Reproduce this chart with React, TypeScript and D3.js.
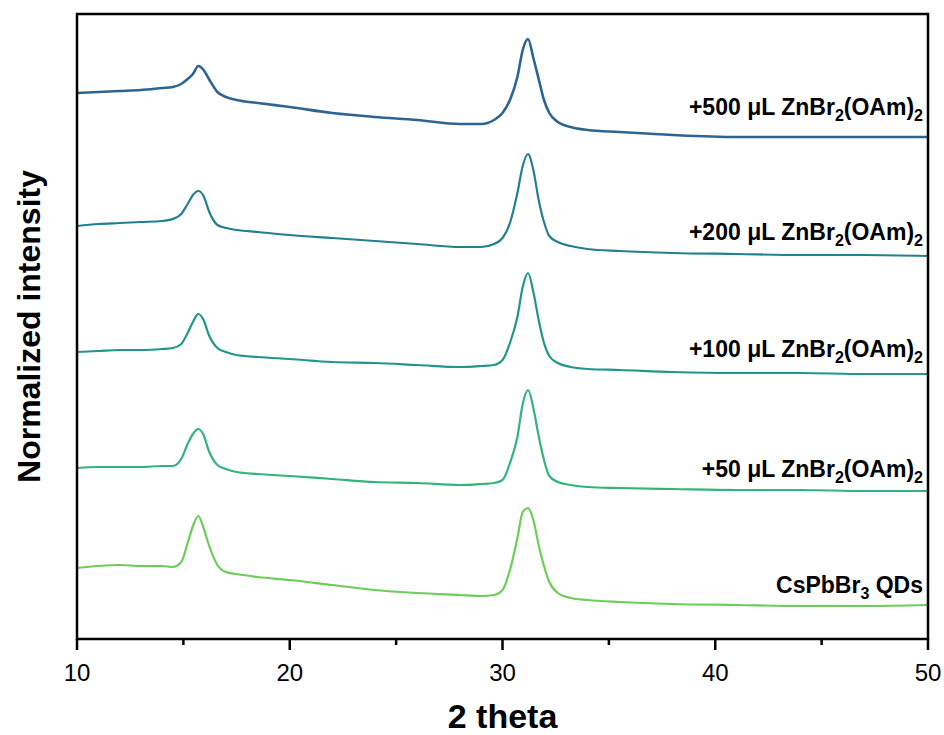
import React from "react";
import * as d3 from "d3";

// 2θ sampling positions (degrees)
const twoTheta = [
  10, 11, 12, 13, 14, 14.5, 14.9, 15.2, 15.45, 15.7, 15.95, 16.2, 16.6, 17, 17.5, 18.5,
  20, 22, 24, 26, 28, 29, 29.6, 30, 30.35, 30.7, 30.95, 31.2, 31.45, 31.7, 31.95, 32.2,
  32.6, 33.2, 34, 35.5, 38, 41, 44, 47, 50,
];

// Offset-stacked normalized intensities (a.u.)
const int500 = [
  546, 547, 548, 549, 551, 552, 555, 560, 565, 573, 569, 560, 547, 542, 539, 536,
  532, 526, 522, 519, 515, 515, 519, 526, 539, 562, 589, 600, 581, 560, 539, 526,
  517, 512, 509, 507, 504, 502, 502, 502, 502,
];
const int200 = [
  413, 415, 416, 417, 418, 420, 425, 435, 444, 448, 443, 428, 414, 411, 409, 407,
  404, 401, 398, 395, 392, 392, 395, 401, 416, 446, 473, 485, 469, 439, 417, 403,
  397, 393, 390, 388, 386, 385, 384, 384, 383,
];
const int100 = [
  287, 288, 289, 289, 290, 291, 295, 306, 317, 325, 319, 304, 291, 287, 284, 282,
  280, 277, 276, 274, 272, 273, 274, 279, 296, 322, 352, 366, 347, 319, 296, 283,
  276, 272, 270, 269, 267, 266, 266, 265, 265,
];
const int50 = [
  171, 172, 172, 172, 173, 173, 180, 195, 205, 210, 204, 188, 174, 170, 167, 165,
  163, 160, 157, 156, 154, 155, 156, 159, 176, 202, 235, 249, 231, 203, 179, 163,
  157, 154, 152, 151, 150, 149, 149, 148, 148,
];
const intQD = [
  71, 73, 74, 73, 73, 72, 77, 96, 113, 123, 111, 94, 74, 67, 65, 62,
  59, 54, 49, 46, 44, 43, 44, 49, 69, 101, 127, 131, 119, 94, 73, 57,
  46, 41, 39, 37, 35, 34, 33, 33, 34,
];

const seriesNames = ["+500", "+200", "+100", "+50", "CsPbBr3"];
const seriesValues = [int500, int200, int100, int50, intQD];
// label baseline level (same units as intensities)
const labelLevels = [524, 399, 282, 162, 46];

const xTicksMajor = [10, 20, 30, 40, 50];
const xTicksMinor = [15, 25, 35, 45];

const colors = ["#2e6590", "#23808e", "#1f978b", "#32b47a", "#6ccd5a"];
const strokeWidths = [2.6, 2.2, 2.2, 2.2, 2.2];

const W = 944;
const H = 735;
const left = 77;
const right = 928;
const top = 14;
const bottom = 639;
const FONT = "Arial, 'Liberation Sans', Helvetica, sans-serif";

function SeriesLabel({ i, x, y }: { i: number; x: number; y: number }) {
  const sub = { fontSize: 16 };
  if (seriesNames[i] === "CsPbBr3") {
    return (
      <text x={x} y={y} textAnchor="end" fontFamily={FONT} fontWeight="bold" fontSize={23} fill="#000">
        CsPbBr<tspan dy={6} {...sub}>3</tspan>
        <tspan dy={-6}> QDs</tspan>
      </text>
    );
  }
  return (
    <text x={x} y={y} textAnchor="end" fontFamily={FONT} fontWeight="bold" fontSize={23} fill="#000">
      {seriesNames[i]} μL ZnBr<tspan dy={6} {...sub}>2</tspan>
      <tspan dy={-6}>(OAm)</tspan>
      <tspan dy={6} {...sub}>2</tspan>
    </text>
  );
}

export default function App() {
  const x = d3.scaleLinear().domain([10, 50]).range([left, right]);
  const y = d3.scaleLinear().domain([0, 625]).range([bottom, top]);
  const line = d3
    .line<number>()
    .x((_, j) => x(twoTheta[j]))
    .y((v) => y(v))
    .curve(d3.curveMonotoneX);

  return (
    <svg
      width={W}
      height={H}
      style={{ position: "absolute", left: 0, top: 0, background: "#fff" }}
    >
      <rect x={0} y={0} width={W} height={H} fill="#fff" />
      {seriesValues.map((vals, i) => (
        <path
          key={i}
          d={line(vals) || ""}
          fill="none"
          stroke={colors[i]}
          strokeWidth={strokeWidths[i]}
          strokeLinejoin="round"
        />
      ))}
      {/* frame */}
      <rect
        x={left}
        y={top}
        width={right - left}
        height={bottom - top}
        fill="none"
        stroke="#000"
        strokeWidth={2.5}
      />
      {/* x ticks */}
      {xTicksMajor.map((t) => (
        <g key={"M" + t}>
          <line x1={x(t)} x2={x(t)} y1={bottom} y2={bottom + 11} stroke="#000" strokeWidth={2.5} />
          <text
            x={x(t)}
            y={681}
            textAnchor="middle"
            fontFamily={FONT}
            fontSize={24}
            fill="#000"
          >
            {t}
          </text>
        </g>
      ))}
      {xTicksMinor.map((t) => (
        <line key={"m" + t} x1={x(t)} x2={x(t)} y1={bottom} y2={bottom + 6} stroke="#000" strokeWidth={2.5} />
      ))}
      {/* axis titles */}
      <text
        x={(left + right) / 2}
        y={728}
        textAnchor="middle"
        fontFamily={FONT}
        fontWeight="bold"
        fontSize={34}
        fill="#000"
      >
        2 theta
      </text>
      <text
        transform={`translate(40,${(top + bottom) / 2}) rotate(-90)`}
        textAnchor="middle"
        fontFamily={FONT}
        fontWeight="bold"
        fontSize={32}
        fill="#000"
      >
        Normalized intensity
      </text>
      {/* series labels */}
      {labelLevels.map((lv, i) => (
        <SeriesLabel key={i} i={i} x={923} y={y(lv)} />
      ))}
    </svg>
  );
}
